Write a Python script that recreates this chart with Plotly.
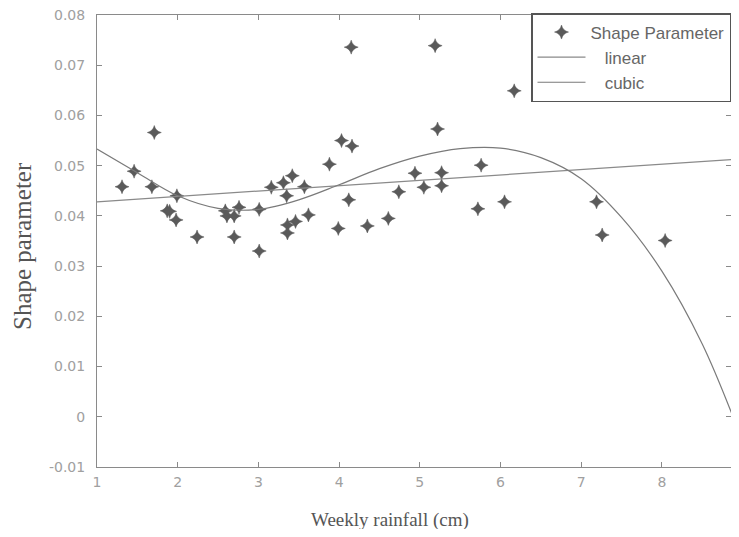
import plotly.graph_objects as go

# Scatter data: weekly rainfall (cm) vs shape parameter
rain = [1.31, 1.46, 1.71, 1.68, 1.99, 1.87, 1.90, 1.98, 2.24, 2.59, 2.61, 2.70, 2.76,
        2.70, 3.01, 3.01, 3.16, 3.31, 3.42, 3.35, 3.57, 3.46, 3.36, 3.36, 3.62, 3.88,
        4.03, 4.16, 4.15, 4.12, 3.99, 4.35, 4.61, 4.74, 4.94, 5.05, 5.27, 5.27, 5.19,
        5.22, 5.76, 5.72, 6.05, 6.17, 7.19, 7.26, 8.04]
shape = [0.0458, 0.0489, 0.0566, 0.0458, 0.0440, 0.0410, 0.0409, 0.0392, 0.0358,
         0.0410, 0.0400, 0.0400, 0.0417, 0.0358, 0.0413, 0.0330, 0.0457, 0.0466,
         0.0480, 0.0440, 0.0458, 0.0389, 0.0382, 0.0366, 0.0402, 0.0503, 0.0550,
         0.0539, 0.0736, 0.0432, 0.0375, 0.0380, 0.0395, 0.0448, 0.0485, 0.0457,
         0.0486, 0.0460, 0.0739, 0.0573, 0.0501, 0.0414, 0.0428, 0.0649, 0.0428,
         0.0362, 0.0351]

# Fitted curves
lin_x = [1.0, 8.93]
lin_y = [0.0428, 0.0513]
cub_x = [1.0, 1.5, 2.0, 2.5, 3.0, 3.5, 4.0, 4.5, 5.0, 5.5, 6.0, 6.5, 7.0, 7.5, 8.0, 8.5, 8.93]
cub_y = [0.0533, 0.0486, 0.0440, 0.0415, 0.0413, 0.0432, 0.0462, 0.0494, 0.0519, 0.0534,
         0.0535, 0.0516, 0.0474, 0.0397, 0.0290, 0.0145, -0.0020]

x_ticks = [1, 2, 3, 4, 5, 6, 7, 8]
y_ticks = [-0.01, 0, 0.01, 0.02, 0.03, 0.04, 0.05, 0.06, 0.07, 0.08]
y_tick_text = ["-0.01", "0", "0.01", "0.02", "0.03", "0.04", "0.05", "0.06", "0.07", "0.08"]

# page body has an 8px margin: figure origin sits at (8, 8) in the window
OFF = 8
W, H = 739 - 2 * OFF, 537 - 2 * OFF
L, T, R = 97 - OFF, 15 - OFF, 0
B = H - (467 - OFF)
PX_PER_UNIT = 80.7
x_max = 1 + (W + OFF - 97) / PX_PER_UNIT

fig = go.Figure()
fig.add_trace(go.Scatter(
    x=rain, y=shape, mode="markers", name="Shape Parameter",
    marker=dict(symbol="star-diamond", size=10, color="#5a5a5a",
                line=dict(color="#5a5a5a", width=0.5)),
))
fig.add_trace(go.Scatter(
    x=lin_x, y=lin_y, mode="lines", name="\u00a0\u00a0\u00a0linear",
    line=dict(color="#8a8a8a", width=1.2),
))
fig.add_trace(go.Scatter(
    x=cub_x, y=cub_y, mode="lines", name="\u00a0\u00a0\u00a0cubic",
    line=dict(color="#7a7a7a", width=1.2, shape="spline"),
))

axis_common = dict(
    showgrid=False, zeroline=False, showline=True, linecolor="#8a8a8a", linewidth=1,
    ticks="inside", ticklen=5, tickcolor="#8a8a8a", mirror="ticks",
    ticklabeloverflow="allow",
    tickfont=dict(family="DejaVu Sans", size=14, color="#a0a0a0"),
)

pw = W - L - R
ph = H - T - B

fig.update_layout(
    width=W, height=H,
    margin=dict(l=L, r=R, t=T, b=B),
    paper_bgcolor="white", plot_bgcolor="white",
    showlegend=True,
    legend=dict(
        x=1.0, y=(467 - 13) / ph, xanchor="right", yanchor="top",
        bordercolor="#555555", borderwidth=1.5, bgcolor="white",
        font=dict(family="Liberation Sans, Arial", size=17, color="#666666"),
        itemwidth=48, tracegroupgap=0,
    ),
    xaxis=dict(range=[1, x_max], tickvals=x_ticks, ticklabelstandoff=2, **axis_common),
    yaxis=dict(range=[-0.01, 0.08], tickvals=y_ticks, ticktext=y_tick_text,
               ticklabelstandoff=8, **axis_common),
)

# axis titles placed at window-pixel positions
def to_paper(px, py):
    return (px - OFF - L) / pw, (H - B - (py - OFF)) / ph

tx, ty = to_paper(390, 520)
fig.add_annotation(text="Weekly rainfall (cm)", x=tx, y=ty, xref="paper", yref="paper",
                   xanchor="center", yanchor="middle", showarrow=False,
                   font=dict(family="Liberation Serif, Times New Roman", size=19, color="#555555"))
tx, ty = to_paper(22, 246)
fig.add_annotation(text="Shape parameter", x=tx, y=ty, xref="paper", yref="paper", textangle=-90,
                   xanchor="center", yanchor="middle", showarrow=False,
                   font=dict(family="Liberation Serif, Times New Roman", size=25, color="#555555"))

fig.write_html("out.html")
